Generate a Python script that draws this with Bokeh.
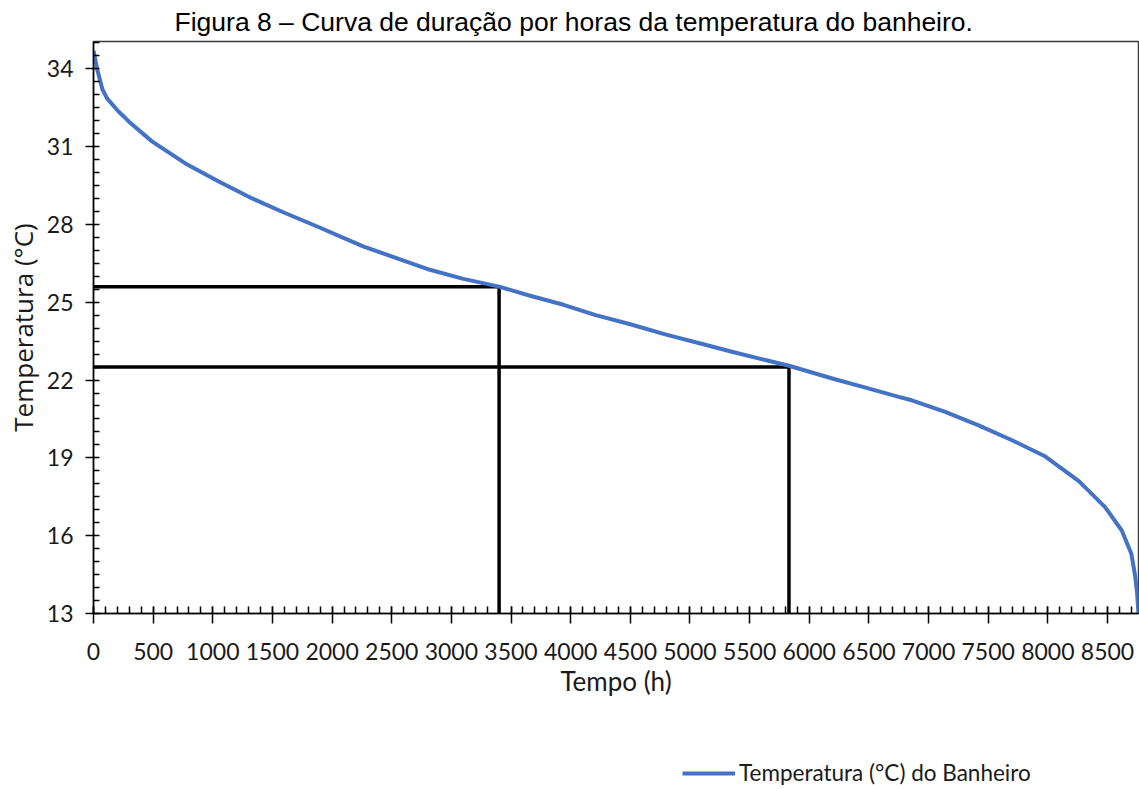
from bokeh.plotting import figure
from bokeh.models import Range1d, FixedTicker, Legend, LegendItem
from bokeh.layouts import column
from bokeh.embed import file_html
from bokeh.resources import INLINE

# ---- data ----
hours = [0, 30, 75, 115, 210, 300, 490, 770, 1050, 1330, 1600, 1885, 2110, 2260,
         2540, 2820, 3100, 3400, 3660, 3940, 4210, 4500, 4800, 5080, 5360, 5640,
         5830, 6200, 6480, 6750, 6860, 7140, 7420, 7700, 7980, 8260, 8480, 8620,
         8700, 8730, 8748, 8760]
temps = [34.7, 34.0, 33.2, 32.85, 32.35, 31.95, 31.2, 30.35, 29.65, 29.0, 28.45,
         27.9, 27.45, 27.15, 26.7, 26.25, 25.9, 25.6, 25.25, 24.9, 24.5, 24.15,
         23.75, 23.42, 23.08, 22.76, 22.55, 22.05, 21.7, 21.35, 21.22, 20.77,
         20.25, 19.68, 19.05, 18.1, 17.1, 16.2, 15.3, 14.5, 13.8, 13.0]

# reference lines (hours, temperature)
ref_hours = [3400, 5830]
ref_temps = [25.6, 22.5]

x_major = list(range(0, 8501, 500))
x_minor = list(range(0, 8761, 100))
y_major = [13, 16, 19, 22, 25, 28, 31, 34]
y_minor = [13 + 0.5 * i for i in range(0, 45)]

title_text = "Figura 8 \u2013 Curva de dura\u00e7\u00e3o por horas da temperatura do banheiro."
x_label = "Tempo (h)"
y_label = "Temperatura (\u00b0C)"
legend_label = "Temperatura (\u00b0C) do Banheiro"

X_MIN, X_MAX = 0, 8760
Y_MIN, Y_MAX = 13, 35.05
BLUE = "#4472C4"

p = figure(width=1139, height=723,
           x_range=Range1d(X_MIN, X_MAX), y_range=Range1d(Y_MIN, Y_MAX),
           output_backend="svg", toolbar_location=None,
           min_border_left=93, min_border_right=1, min_border_top=41,
           min_border_bottom=110)

p.title.text = title_text
p.title.align = "left"
p.title.offset = 81
p.title.text_font = "Liberation Sans"
p.title.text_font_size = "26.5px"
p.title.text_font_style = "normal"
p.title.text_color = "black"
p.title.standoff = 9

p.xgrid.visible = False
p.ygrid.visible = False
p.outline_line_color = "#3a3a3a"
p.outline_line_width = 1.5

# reference segments
zeros = [X_MIN] * len(ref_hours)
bottoms = [Y_MIN] * len(ref_hours)
p.segment(x0=zeros, y0=ref_temps, x1=ref_hours, y1=ref_temps,
          line_color="black", line_width=3.5)
p.segment(x0=ref_hours, y0=bottoms, x1=ref_hours, y1=ref_temps,
          line_color="black", line_width=3.5)

curve = p.line(hours, temps, line_color=BLUE, line_width=4, line_join="round")

tick_font = "Lato"

xa = p.xaxis[0]
xa.ticker = FixedTicker(ticks=x_major, minor_ticks=x_minor)
xa.axis_label = x_label
xa.axis_line_color = "black"
xa.axis_line_width = 1.5
xa.major_tick_line_color = "black"
xa.minor_tick_line_color = "black"
xa.major_tick_line_width = 1.5
xa.minor_tick_line_width = 1.5
xa.major_tick_in = 7
xa.major_tick_out = 10
xa.minor_tick_in = 7
xa.minor_tick_out = 0
xa.major_label_text_font = tick_font
xa.major_label_text_font_size = "23px"
xa.major_label_text_color = "#1a1a1a"
xa.major_label_standoff = 19
xa.axis_label_text_font = tick_font
xa.axis_label_text_font_size = "26px"
xa.axis_label_text_font_style = "normal"
xa.axis_label_text_color = "#1a1a1a"
xa.axis_label_standoff = 2

ya = p.yaxis[0]
ya.ticker = FixedTicker(ticks=y_major, minor_ticks=y_minor)
ya.axis_label = y_label
ya.axis_line_color = "black"
ya.axis_line_width = 1.5
ya.major_tick_line_color = "black"
ya.minor_tick_line_color = "black"
ya.major_tick_line_width = 1.5
ya.minor_tick_line_width = 1.5
ya.major_tick_in = 1
ya.major_tick_out = 8
ya.minor_tick_in = 6
ya.minor_tick_out = 0
ya.major_label_text_font = tick_font
ya.major_label_text_font_size = "23px"
ya.major_label_text_color = "#1a1a1a"
ya.major_label_standoff = 12
ya.axis_label_text_font = "Open Sans"
ya.axis_label_text_font_size = "26px"
ya.axis_label_text_font_style = "normal"
ya.axis_label_text_color = "#1a1a1a"
ya.axis_label_standoff = 3

# legend strip under the chart (its key line uses the same series, out of view)
lg = figure(width=1139, height=64, x_range=Range1d(0, 1), y_range=Range1d(0, 1),
            output_backend="svg", toolbar_location=None, min_border=0,
            x_axis_type=None, y_axis_type=None)
lg.outline_line_color = None
lg.xgrid.visible = False
lg.ygrid.visible = False
key = lg.line(hours, temps, line_color=BLUE, line_width=4)
legend = Legend(items=[LegendItem(label=legend_label, renderers=[key])],
                location=(589, 1), glyph_width=53, glyph_height=20,
                label_standoff=4, padding=0, margin=0,
                border_line_alpha=0, background_fill_alpha=0,
                label_text_font=tick_font, label_text_font_size="22.5px",
                label_text_color="#1a1a1a")
lg.add_layout(legend)

layout = column(p, lg, spacing=0)
open("out.html", "w").write(file_html(layout, INLINE))
